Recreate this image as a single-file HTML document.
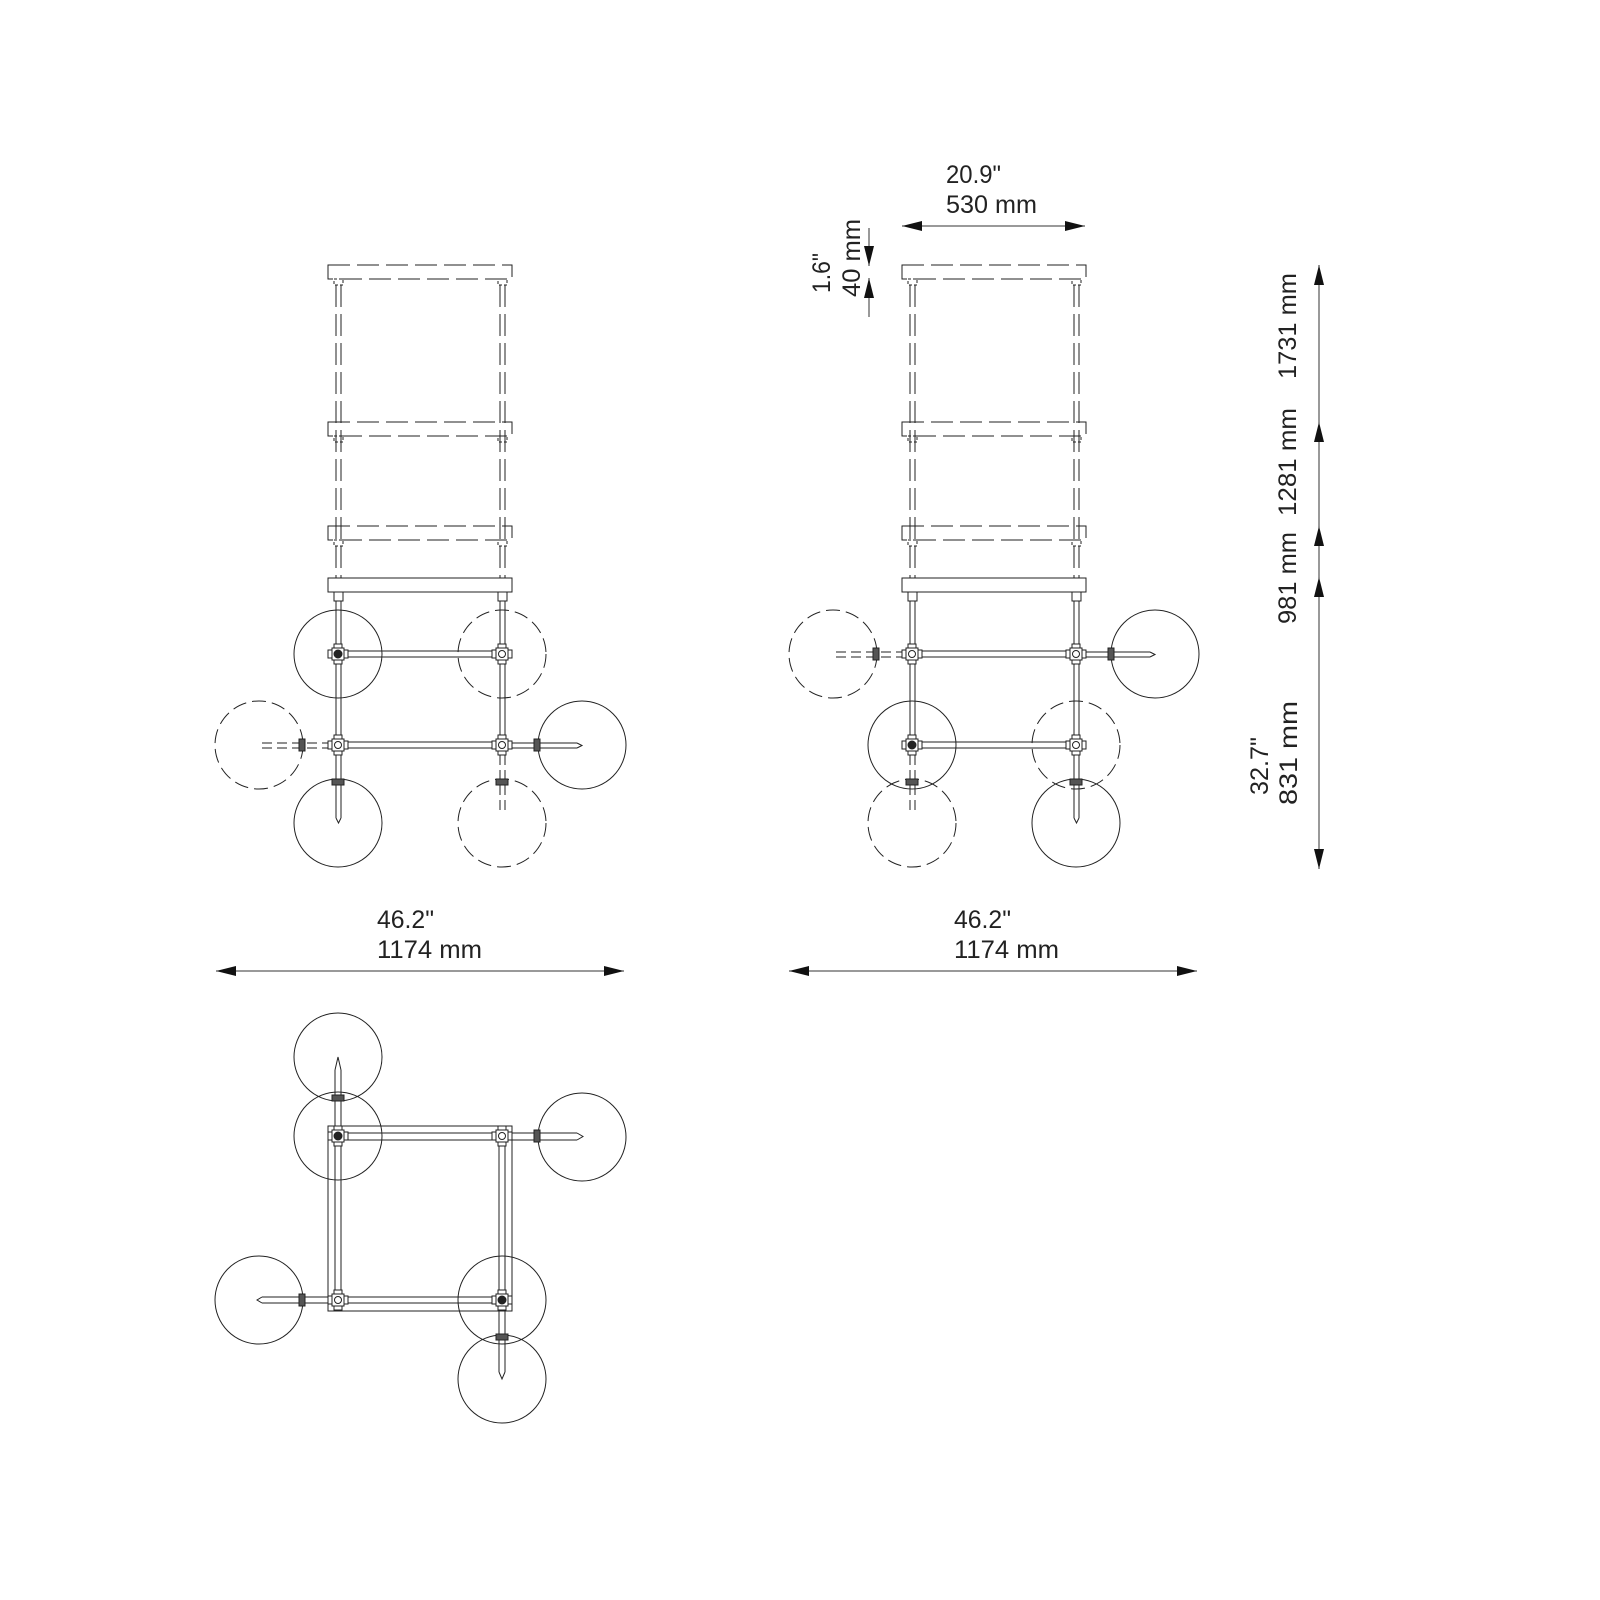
<!DOCTYPE html>
<html><head><meta charset="utf-8"><style>
html,body{margin:0;padding:0;background:#fff;}
svg{display:block;}
text{font-family:"Liberation Sans",sans-serif;font-size:25px;fill:#222;}
</style></head><body>
<svg width="1600" height="1600" viewBox="0 0 1600 1600" xmlns="http://www.w3.org/2000/svg">
<defs>
<g id="hub" fill="#fff" stroke="#222" stroke-width="1">
<rect x="-4" y="-10" width="8" height="20"/>
<rect x="-10" y="-4" width="20" height="8"/>
<rect x="-6" y="-6" width="12" height="12"/>
<circle r="3.5"/>
</g>
<g id="hubL" fill="#fff" stroke="#222" stroke-width="1">
<rect x="-4" y="-10" width="8" height="20"/>
<rect x="-10" y="-4" width="20" height="8"/>
<rect x="-6" y="-6" width="12" height="12"/>
<circle r="4" fill="#222"/>
</g>
<rect id="collarV" x="-6" y="-3" width="12" height="6" fill="#555" stroke="#222"/>
<rect id="collarH" x="-3" y="-6" width="6" height="12" fill="#555" stroke="#222"/>
<marker id="ah" viewBox="0 0 20 10" refX="20" refY="5" markerWidth="20" markerHeight="10" markerUnits="userSpaceOnUse" orient="auto-start-reverse">
<path d="M0,0 L20,5 L0,10 z" fill="#111"/>
</marker>
<g id="upper" fill="none" stroke="#222" stroke-width="1">
<g stroke-dasharray="22 7">
<rect x="328" y="265" width="184" height="14"/>
<rect x="328" y="422" width="184" height="14"/>
<rect x="328" y="526" width="184" height="14"/>
<line x1="336" y1="285" x2="336" y2="578"/><line x1="341" y1="285" x2="341" y2="578"/>
<line x1="500" y1="285" x2="500" y2="578"/><line x1="505" y1="285" x2="505" y2="578"/>
</g>
<g stroke-dasharray="3 2">
<rect x="334" y="279" width="9" height="6"/><rect x="498" y="279" width="9" height="6"/>
<rect x="334" y="436" width="9" height="6"/><rect x="498" y="436" width="9" height="6"/>
<rect x="334" y="540" width="9" height="6"/><rect x="498" y="540" width="9" height="6"/>
</g>
<rect x="328" y="578" width="184" height="14"/>
<rect x="334" y="592" width="9" height="9"/><rect x="498" y="592" width="9" height="9"/>
<line x1="336" y1="601" x2="336" y2="745"/><line x1="341" y1="601" x2="341" y2="745"/>
<line x1="500" y1="601" x2="500" y2="745"/><line x1="505" y1="601" x2="505" y2="745"/>
<line x1="338" y1="651" x2="502" y2="651"/><line x1="338" y1="657" x2="502" y2="657"/>
<line x1="338" y1="742" x2="502" y2="742"/><line x1="338" y1="748" x2="502" y2="748"/>
</g>
</defs>

<g fill="none" stroke="#222" stroke-width="1">
<use href="#upper"/>
<circle cx="338" cy="654" r="44"/>
<circle cx="502" cy="654" r="44" stroke-dasharray="14 6"/>
<circle cx="259" cy="745" r="44" stroke-dasharray="14 6"/>
<circle cx="582" cy="745" r="44"/>
<circle cx="338" cy="823" r="44"/>
<circle cx="502" cy="823" r="44" stroke-dasharray="14 6"/>
<g stroke-dasharray="10 5"><line x1="262" y1="743" x2="330" y2="743"/><line x1="262" y1="748" x2="330" y2="748"/>
<line x1="500" y1="755" x2="500" y2="815"/><line x1="505" y1="755" x2="505" y2="815"/></g>
<line x1="512" y1="743" x2="577" y2="743"/><line x1="512" y1="748" x2="577" y2="748"/>
<path d="M577,743 L582,745.5 L577,748"/>
<line x1="336" y1="755" x2="336" y2="818"/><line x1="341" y1="755" x2="341" y2="818"/>
<path d="M336,818 L338.5,823 L341,818"/>
<use href="#collarH" x="302" y="745"/><use href="#collarH" x="537" y="745"/>
<use href="#collarV" x="338" y="782"/><use href="#collarV" x="502" y="782"/>
<use href="#hubL" x="338" y="654"/><use href="#hub" x="502" y="654"/>
<use href="#hub" x="338" y="745"/><use href="#hub" x="502" y="745"/>

<use href="#upper" x="574"/>
<circle cx="833" cy="654" r="44" stroke-dasharray="14 6"/>
<circle cx="1155" cy="654" r="44"/>
<circle cx="912" cy="745" r="44"/>
<circle cx="1076" cy="745" r="44" stroke-dasharray="14 6"/>
<circle cx="912" cy="823" r="44" stroke-dasharray="14 6"/>
<circle cx="1076" cy="823" r="44"/>
<g stroke-dasharray="10 5"><line x1="836" y1="652" x2="904" y2="652"/><line x1="836" y1="657" x2="904" y2="657"/>
<line x1="910" y1="755" x2="910" y2="815"/><line x1="915" y1="755" x2="915" y2="815"/></g>
<line x1="1086" y1="652" x2="1150" y2="652"/><line x1="1086" y1="657" x2="1150" y2="657"/>
<path d="M1150,652 L1155,654.5 L1150,657"/>
<line x1="1074" y1="755" x2="1074" y2="818"/><line x1="1079" y1="755" x2="1079" y2="818"/>
<path d="M1074,818 L1076.5,823 L1079,818"/>
<use href="#collarH" x="876" y="654"/><use href="#collarH" x="1111" y="654"/>
<use href="#collarV" x="912" y="782"/><use href="#collarV" x="1076" y="782"/>
<use href="#hub" x="912" y="654"/><use href="#hub" x="1076" y="654"/>
<use href="#hubL" x="912" y="745"/><use href="#hub" x="1076" y="745"/>

<rect x="328" y="1126" width="184" height="185"/>
<line x1="335" y1="1070" x2="335" y2="1300"/><line x1="341" y1="1070" x2="341" y2="1300"/>
<line x1="499" y1="1136" x2="499" y2="1372"/><line x1="505" y1="1136" x2="505" y2="1372"/>
<line x1="338" y1="1133" x2="577" y2="1133"/><line x1="338" y1="1140" x2="577" y2="1140"/>
<line x1="262" y1="1297" x2="502" y2="1297"/><line x1="262" y1="1303" x2="502" y2="1303"/>
<path d="M335,1070 L338,1057 L341,1070"/><path d="M577,1133 L583,1136.5 L577,1140"/>
<path d="M262,1297 L257,1300 L262,1303"/><path d="M499,1372 L502,1379 L505,1372"/>
<circle cx="338" cy="1057" r="44"/>
<circle cx="338" cy="1136" r="44"/>
<circle cx="582" cy="1137" r="44"/>
<circle cx="259" cy="1300" r="44"/>
<circle cx="502" cy="1300" r="44"/>
<circle cx="502" cy="1379" r="44"/>
<use href="#collarV" x="338" y="1098"/><use href="#collarH" x="537" y="1136"/>
<use href="#collarH" x="302" y="1300"/><use href="#collarV" x="502" y="1337"/>
<use href="#hubL" x="338" y="1136"/><use href="#hub" x="502" y="1136"/>
<use href="#hub" x="338" y="1300"/><use href="#hubL" x="502" y="1300"/>
</g>

<g stroke="#333" stroke-width="1">
<line x1="216" y1="971" x2="624" y2="971" marker-start="url(#ah)" marker-end="url(#ah)"/>
<line x1="789" y1="971" x2="1197" y2="971" marker-start="url(#ah)" marker-end="url(#ah)"/>
<line x1="902" y1="226" x2="1085" y2="226" marker-start="url(#ah)" marker-end="url(#ah)"/>
<line x1="869" y1="228" x2="869" y2="266" marker-end="url(#ah)"/>
<line x1="869" y1="317" x2="869" y2="278" marker-end="url(#ah)"/>
<line x1="1319" y1="869" x2="1319" y2="265" marker-end="url(#ah)"/>
<line x1="1319" y1="445" x2="1319" y2="422" marker-end="url(#ah)"/>
<line x1="1319" y1="549" x2="1319" y2="526" marker-end="url(#ah)"/>
<line x1="1319" y1="600" x2="1319" y2="577" marker-end="url(#ah)"/>
<line x1="1319" y1="845" x2="1319" y2="869" marker-end="url(#ah)"/>
</g>
<g>
<text x="377" y="928" textLength="57" lengthAdjust="spacingAndGlyphs">46.2"</text>
<text x="377" y="958" textLength="105" lengthAdjust="spacingAndGlyphs">1174 mm</text>
<text x="954" y="928" textLength="57" lengthAdjust="spacingAndGlyphs">46.2"</text>
<text x="954" y="958" textLength="105" lengthAdjust="spacingAndGlyphs">1174 mm</text>
<text x="946" y="183" textLength="55" lengthAdjust="spacingAndGlyphs">20.9"</text>
<text x="946" y="213" textLength="91" lengthAdjust="spacingAndGlyphs">530 mm</text>
<text transform="translate(830,273) rotate(-90)" text-anchor="middle" textLength="40" lengthAdjust="spacingAndGlyphs">1.6"</text>
<text transform="translate(860,258) rotate(-90)" text-anchor="middle" textLength="78" lengthAdjust="spacingAndGlyphs">40 mm</text>
<text transform="translate(1296,326) rotate(-90)" text-anchor="middle" textLength="106" lengthAdjust="spacingAndGlyphs">1731 mm</text>
<text transform="translate(1296,462) rotate(-90)" text-anchor="middle" textLength="108" lengthAdjust="spacingAndGlyphs">1281 mm</text>
<text transform="translate(1296,578) rotate(-90)" text-anchor="middle" textLength="92" lengthAdjust="spacingAndGlyphs">981 mm</text>
<text transform="translate(1268,766) rotate(-90)" text-anchor="middle" textLength="58" lengthAdjust="spacingAndGlyphs">32.7"</text>
<text transform="translate(1297,753) rotate(-90)" text-anchor="middle" textLength="104" lengthAdjust="spacingAndGlyphs">831 mm</text>
</g>
</svg>
</body></html>
